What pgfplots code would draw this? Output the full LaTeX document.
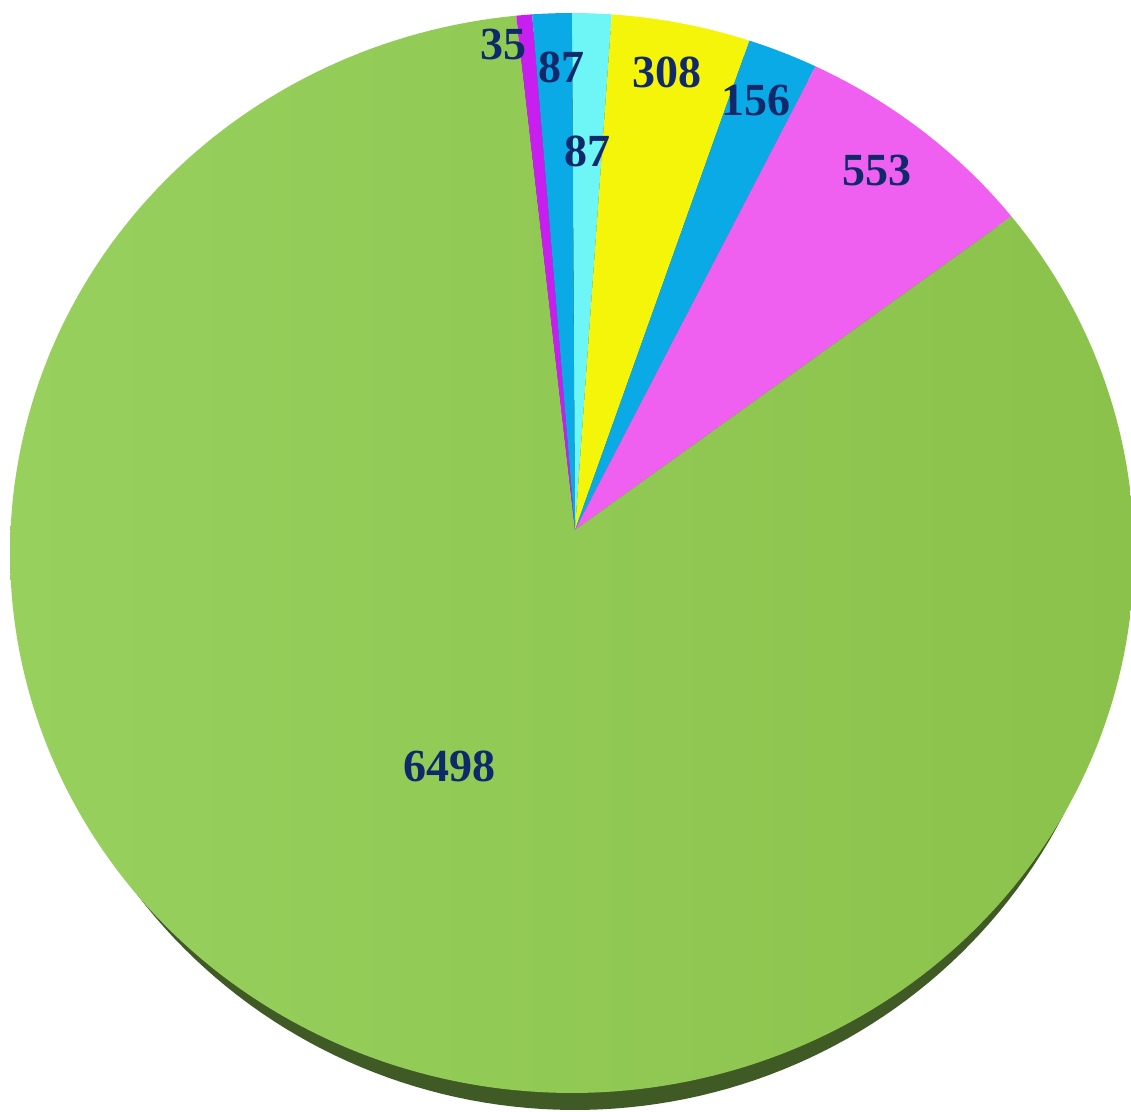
\documentclass[border=0pt]{standalone}
\usepackage{pgfplots}
\pgfplotsset{compat=1.18}
\usepackage{fontspec}
\setmainfont{Liberation Serif}
\definecolor{cCyan}{HTML}{6EF6F6}
\definecolor{cYellow}{HTML}{F5F50A}
\definecolor{cBlue}{HTML}{0AAAE6}
\definecolor{cPink}{HTML}{F060F0}
\definecolor{cGreenL}{HTML}{98D05E}
\definecolor{cGreenR}{HTML}{8AC24B}
\definecolor{cPurple}{HTML}{C81EF0}
\definecolor{cShadow}{HTML}{405A25}
\definecolor{cLabel}{HTML}{10296A}
% slice values, clockwise from the top
\def\vA{87}   % cyan
\def\vB{308}  % yellow
\def\vC{156}  % blue
\def\vD{553}  % pink
\def\vE{6498} % green
\def\vF{35}   % purple
\def\vG{87}   % blue
\pgfmathsetmacro{\tot}{\vA+\vB+\vC+\vD+\vE+\vF+\vG}
\pgfmathsetmacro{\aA}{90}
\pgfmathsetmacro{\aB}{\aA-\vA/\tot*360}
\pgfmathsetmacro{\aC}{\aB-\vB/\tot*360}
\pgfmathsetmacro{\aD}{\aC-\vC/\tot*360}
\pgfmathsetmacro{\aE}{\aD-\vD/\tot*360}
\pgfmathsetmacro{\aF}{\aE-\vE/\tot*360}
\pgfmathsetmacro{\aG}{\aF-\vF/\tot*360}
\pgfmathsetmacro{\aH}{\aG-\vG/\tot*360}
\def\cx{572}\def\cy{553}\def\rx{562}\def\ry{540}
\def\px{575}\def\py{530}
\begin{document}
\begin{tikzpicture}
\begin{axis}[scale only axis, width=565.5pt, height=556pt,
  xmin=0, xmax=1131, ymin=0, ymax=1112, y dir=reverse,
  hide axis, clip=true]
% shadow rim
\addplot[fill=cShadow, draw=none, domain=0:360, samples=240, variable=\t]
  ({\cx+3+548*cos(t)}, {\cy+17-\ry*sin(t)}) -- cycle;
% slices
\addplot[fill=cCyan, draw=none, domain=\aB:\aA, samples=20, variable=\t]
  ({\cx+\rx*cos(t)}, {\cy-\ry*sin(t)}) -- (axis cs:\px,\py) -- cycle;
\addplot[fill=cYellow, draw=none, domain=\aC:\aB, samples=20, variable=\t]
  ({\cx+\rx*cos(t)}, {\cy-\ry*sin(t)}) -- (axis cs:\px,\py) -- cycle;
\addplot[fill=cBlue, draw=none, domain=\aD:\aC, samples=20, variable=\t]
  ({\cx+\rx*cos(t)}, {\cy-\ry*sin(t)}) -- (axis cs:\px,\py) -- cycle;
\addplot[fill=cPink, draw=none, domain=\aE:\aD, samples=30, variable=\t]
  ({\cx+\rx*cos(t)}, {\cy-\ry*sin(t)}) -- (axis cs:\px,\py) -- cycle;
\addplot[left color=cGreenL, right color=cGreenR, draw=none, domain=\aF:\aE, samples=240, variable=\t]
  ({\cx+\rx*cos(t)}, {\cy-\ry*sin(t)}) -- (axis cs:\px,\py) -- cycle;
\addplot[fill=cPurple, draw=none, domain=\aG:\aF, samples=10, variable=\t]
  ({\cx+\rx*cos(t)}, {\cy-\ry*sin(t)}) -- (axis cs:\px,\py) -- cycle;
\addplot[fill=cBlue, draw=none, domain=\aH:\aG, samples=20, variable=\t]
  ({\cx+\rx*cos(t)}, {\cy-\ry*sin(t)}) -- (axis cs:\px,\py) -- cycle;
% labels
\begin{scope}[every node/.style={font=\fontsize{23}{25}\selectfont\bfseries, text=cLabel, inner sep=0pt}]
\node at (axis cs:503,45) {35};
\node at (axis cs:561,67) {87};
\node at (axis cs:587,151) {87};
\node at (axis cs:667,72) {308};
\node at (axis cs:756,101) {156};
\node at (axis cs:877,170) {553};
\node at (axis cs:449,766) {6498};
\end{scope}
\end{axis}
\pgfresetboundingbox
\path[use as bounding box] (current axis.south west) rectangle (current axis.north east);
\end{tikzpicture}
\end{document}
